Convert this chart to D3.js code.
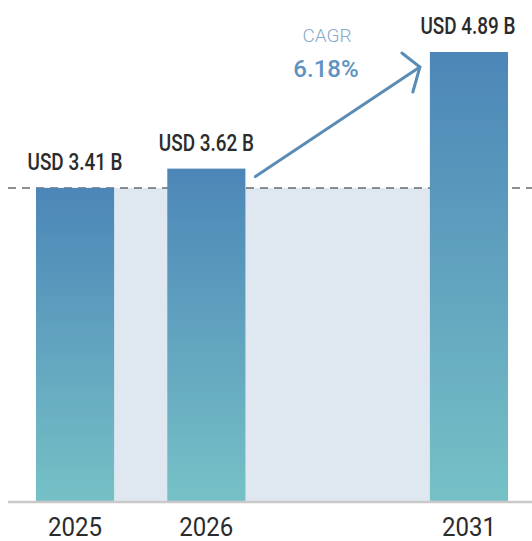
<!DOCTYPE html>
<html>
<head>
<meta charset="utf-8">
<script src="https://cdn.jsdelivr.net/npm/d3@7"></script>
<style>
  html, body { margin: 0; padding: 0; background: #fff; }
  svg { display: block; }
</style>
</head>
<body>
<div id="chart"></div>
<script>
// data
const years = ["2025", "2026", "2031"];
const values = [3.41, 3.62, 4.89];
const valueLabels = ["USD 3.41 B", "USD 3.62 B", "USD 4.89 B"];
const cagrTitle = "CAGR";
const cagrValue = "6.18%";

const width = 532, height = 541;
const baseY = 501, topY = 52;

const svg = d3.select("#chart").append("svg")
    .attr("width", width)
    .attr("height", height);

// slot "gap" keeps the 2027-2030 space empty
const x = d3.scaleBand()
    .domain(["2025", "2026", "gap", "2031"])
    .range([36, 508])
    .paddingInner(0.405)
    .paddingOuter(0);

const y = d3.scaleLinear()
    .domain([0, d3.max(values)])
    .range([baseY, topY]);

const defs = svg.append("defs");
const grad = defs.append("linearGradient")
    .attr("id", "barGrad")
    .attr("x1", 0).attr("y1", 0).attr("x2", 0).attr("y2", 1);
grad.append("stop").attr("offset", "0%").attr("stop-color", "#4c86b8");
grad.append("stop").attr("offset", "100%").attr("stop-color", "#76c1c6");

// light band at the 2025 level, behind the bars
svg.append("rect")
    .attr("x", x("2025"))
    .attr("y", y(values[0]))
    .attr("width", x("2031") + x.bandwidth() - x("2025"))
    .attr("height", baseY - y(values[0]))
    .attr("fill", "#dfe8f1");

// dashed reference line
svg.append("line")
    .attr("x1", 8).attr("x2", width)
    .attr("y1", y(values[0])).attr("y2", y(values[0]))
    .attr("stroke", "#6b6b6b")
    .attr("stroke-width", 1.5)
    .attr("stroke-dasharray", "8,6");

// bars
svg.append("g")
    .selectAll("rect")
    .data(years)
    .join("rect")
    .attr("x", d => x(d))
    .attr("y", (d, i) => y(values[i]))
    .attr("width", x.bandwidth())
    .attr("height", (d, i) => baseY - y(values[i]))
    .attr("fill", "url(#barGrad)");

// baseline
svg.append("line")
    .attr("x1", 8).attr("x2", width)
    .attr("y1", baseY + 1).attr("y2", baseY + 1)
    .attr("stroke", "#c9c9c9")
    .attr("stroke-width", 2.5);

// value labels (condensed look)
svg.append("g")
    .selectAll("text")
    .data(years)
    .join("text")
    .attr("x", (d, i) => x(d) + x.bandwidth() / 2 + (i === 2 ? -1 : 0))
    .attr("y", (d, i) => y(values[i]) - 18)
    .attr("text-anchor", "middle")
    .attr("textLength", 95)
    .attr("lengthAdjust", "spacingAndGlyphs")
    .style("font-family", "Roboto, sans-serif")
    .style("font-size", "23px")
    .style("font-weight", "500")
    .style("fill", "#2b2b2b")
    .text((d, i) => valueLabels[i]);

// year labels
svg.append("g")
    .selectAll("text")
    .data(years)
    .join("text")
    .attr("x", d => x(d) + x.bandwidth() / 2)
    .attr("y", 536)
    .attr("text-anchor", "middle")
    .attr("textLength", 54)
    .attr("lengthAdjust", "spacingAndGlyphs")
    .style("font-family", "Roboto, sans-serif")
    .style("font-size", "26px")
    .style("fill", "#2b2b2b")
    .text(d => d);

// CAGR arrow from the 2026 bar up to the 2031 bar
const a0 = [x("2026") + x.bandwidth() + 10, y(values[1]) + 8];
const a1 = [x("2031") - 10, y(values[2]) + 15];
const arrow = svg.append("g")
    .attr("stroke", "#5a8cb6")
    .attr("stroke-width", 3)
    .attr("stroke-linecap", "round")
    .attr("fill", "none");
arrow.append("line")
    .attr("x1", a0[0]).attr("y1", a0[1])
    .attr("x2", a1[0]).attr("y2", a1[1]);
arrow.append("path")
    .attr("d", `M${a1[0] - 18},${a1[1] - 14} L${a1[0]},${a1[1]} L${a1[0] - 7},${a1[1] + 25}`);

svg.append("text")
    .attr("x", 327)
    .attr("y", 42)
    .attr("text-anchor", "middle")
    .style("font-family", "Roboto, sans-serif")
    .style("font-size", "19px")
    .style("font-weight", "300")
    .style("fill", "#86aacb")
    .text(cagrTitle);

svg.append("text")
    .attr("x", 326)
    .attr("y", 77)
    .attr("text-anchor", "middle")
    .style("font-family", "Roboto, sans-serif")
    .style("font-size", "24px")
    .style("font-weight", "500")
    .style("fill", "#5e92c0")
    .text(cagrValue);
</script>
</body>
</html>
